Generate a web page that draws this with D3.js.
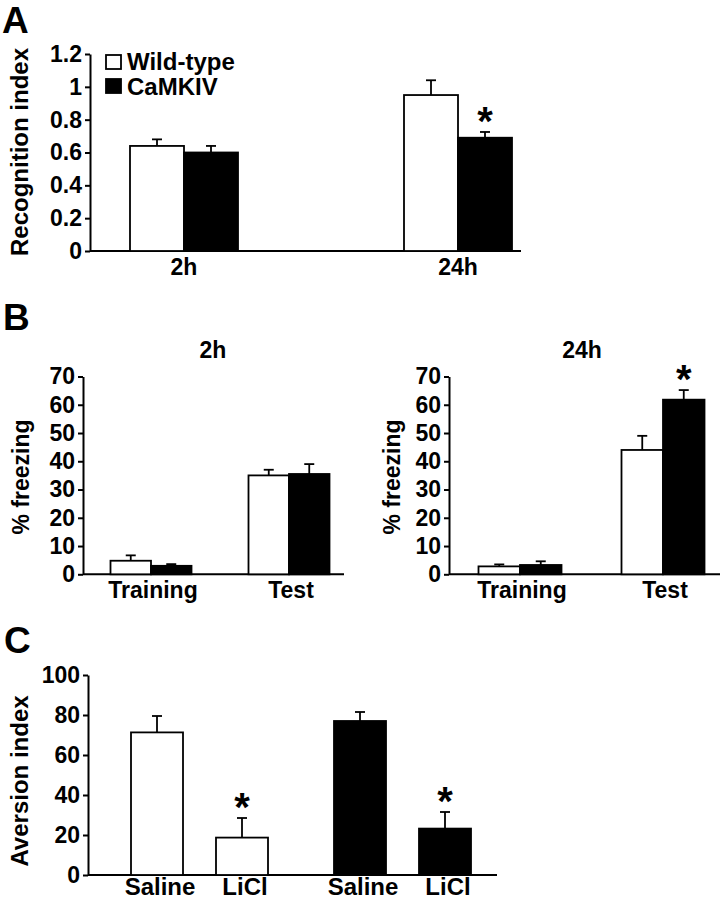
<!DOCTYPE html>
<html><head><meta charset="utf-8">
<script src="https://cdn.jsdelivr.net/npm/d3@7"></script>
<style>
body{margin:0;background:#fff}
text{font-family:"Liberation Sans",Arial,Helvetica,sans-serif;font-weight:bold;fill:#000}
</style>
</head><body>
<svg id="chart" width="725" height="900"></svg>
<script>
// ---------- DATA ----------
const seriesNames = ["Wild-type", "CaMKIV"];

// Panel A: recognition index
const aCategories = ["2h", "24h"];
const aWild = [0.64, 0.95];
const aWildErr = [0.04, 0.09];
const aCam = [0.60, 0.69];
const aCamErr = [0.04, 0.035];
const aCamSig = [false, true];
const aTicks = [0, 0.2, 0.4, 0.6, 0.8, 1, 1.2];
const aTickLabels = ["0", "0.2", "0.4", "0.6", "0.8", "1", "1.2"];

// Panel B: % freezing
const bPhases = ["Training", "Test"];
const bTitles = ["2h", "24h"];
const b2hWild = [4.8, 35.0];
const b2hWildErr = [1.9, 2.0];
const b2hCam = [3.0, 35.5];
const b2hCamErr = [0.6, 3.5];
const b2hCamSig = [false, false];
const b24hWild = [2.8, 44.0];
const b24hWildErr = [0.7, 5.0];
const b24hCam = [3.3, 61.8];
const b24hCamErr = [1.3, 3.4];
const b24hCamSig = [false, true];
const bTicks = [0, 10, 20, 30, 40, 50, 60, 70];
const bTickLabels = ["0", "10", "20", "30", "40", "50", "60", "70"];

// Panel C: aversion index
const cGroups = ["Wild-type", "CaMKIV"];
const cTreatments = ["Saline", "LiCl"];
const cWild = [71.3, 18.7];
const cWildErr = [8.2, 9.8];
const cWildSig = [false, true];
const cCam = [77.0, 23.2];
const cCamErr = [4.5, 8.3];
const cCamSig = [false, true];
const cTicks = [0, 20, 40, 60, 80, 100];
const cTickLabels = ["0", "20", "40", "60", "80", "100"];

// ---------- DRAWING ----------
const svg = d3.select("#chart");
const fills = {"Wild-type": "#fff", "CaMKIV": "#000"};

function yAxis(g, y, ticks, labels, axisX, xEnd) {
  const ax = g.append("g")
    .attr("transform", `translate(${axisX},0)`)
    .call(d3.axisLeft(y).tickValues(ticks).tickFormat((d, i) => labels[i])
      .tickSize(5).tickSizeOuter(0).tickPadding(3));
  ax.attr("font-size", 23).attr("font-family", null);
  ax.selectAll("path,line").attr("stroke", "#000").attr("stroke-width", 2);
  ax.selectAll("text").attr("fill", "#000");
  g.append("line")
    .attr("x1", axisX).attr("x2", xEnd)
    .attr("y1", y(0)).attr("y2", y(0))
    .attr("stroke", "#000").attr("stroke-width", 2);
}

function bar(g, x, w, y, v, e, fill, sig) {
  const cx = x + w / 2;
  g.append("line").attr("x1", cx).attr("x2", cx)
    .attr("y1", y(v)).attr("y2", y(v + e))
    .attr("stroke", "#000").attr("stroke-width", 1.8);
  g.append("line").attr("x1", cx - 5).attr("x2", cx + 5)
    .attr("y1", y(v + e)).attr("y2", y(v + e))
    .attr("stroke", "#000").attr("stroke-width", 1.8);
  g.append("rect").attr("x", x).attr("y", y(v))
    .attr("width", w).attr("height", y(0) - y(v))
    .attr("fill", fill).attr("stroke", "#000").attr("stroke-width", 1.8);
  if (sig) {
    g.append("text").attr("x", cx).attr("y", y(v + e) + 3)
      .attr("text-anchor", "middle").attr("font-size", 40).text("*");
  }
}

function yLabel(x, y, txt, size) {
  svg.append("text").attr("transform", `translate(${x},${y}) rotate(-90)`)
    .attr("text-anchor", "middle").attr("font-size", size).text(txt);
}

function panelLetter(x, y, t) {
  svg.append("text").attr("x", x).attr("y", y).attr("font-size", 37).text(t);
}

// ---- Panel A ----
{
  const g = svg.append("g");
  const y = d3.scaleLinear().domain([0, 1.2]).range([251, 54]);
  const x = d3.scalePoint().domain(aCategories).range([184, 458]);
  const inner = d3.scaleBand().domain(seriesNames).range([-54, 54]);
  yAxis(g, y, aTicks, aTickLabels, 90, 521);
  aCategories.forEach((c, i) => {
    bar(g, x(c) + inner("Wild-type"), inner.bandwidth(), y, aWild[i], aWildErr[i], fills["Wild-type"], false);
    bar(g, x(c) + inner("CaMKIV"), inner.bandwidth(), y, aCam[i], aCamErr[i], fills["CaMKIV"], aCamSig[i]);
  });
  g.selectAll("text.xl").data(aCategories).join("text").attr("class", "xl")
    .attr("x", d => x(d)).attr("y", 275).attr("text-anchor", "middle")
    .attr("font-size", 23).text(d => d);
  // legend
  const leg = g.append("g");
  seriesNames.forEach((s, i) => {
    leg.append("rect").attr("x", 106).attr("y", 55 + i * 24).attr("width", 15).attr("height", 14)
      .attr("fill", fills[s]).attr("stroke", "#000").attr("stroke-width", 1.8);
    leg.append("text").attr("x", 127).attr("y", 70 + i * 25).attr("font-size", 24).text(s);
  });
  yLabel(28, 152, "Recognition index", 24);
  panelLetter(2, 33, "A");
}

// ---- Panel B ----
function panelB(cfg) {
  const g = svg.append("g");
  const y = d3.scaleLinear().domain([0, 70]).range([574.3, 376.5]);
  const x = d3.scalePoint().domain(bPhases).range(cfg.range);
  const inner = d3.scaleBand().domain(seriesNames).range([-cfg.bw, cfg.bw]);
  yAxis(g, y, bTicks, bTickLabels, cfg.axisX, cfg.xEnd);
  bPhases.forEach((p, i) => {
    bar(g, x(p) + inner("Wild-type"), inner.bandwidth(), y, cfg.wild[i], cfg.wildErr[i], fills["Wild-type"], false);
    bar(g, x(p) + inner("CaMKIV"), inner.bandwidth(), y, cfg.cam[i], cfg.camErr[i], fills["CaMKIV"], cfg.sig[i]);
  });
  g.selectAll("text.xl").data(bPhases).join("text").attr("class", "xl")
    .attr("x", d => x(d) + 2).attr("y", 598).attr("text-anchor", "middle")
    .attr("font-size", 23).text(d => d);
  g.append("text").attr("x", cfg.titleX).attr("y", 358).attr("text-anchor", "middle")
    .attr("font-size", 23).text(cfg.title);
  yLabel(cfg.labelX, 477, "% freezing", 23);
}
panelB({range: [151, 289], bw: 40.5, axisX: 83, xEnd: 344, wild: b2hWild, wildErr: b2hWildErr,
        cam: b2hCam, camErr: b2hCamErr, sig: b2hCamSig, title: bTitles[0], titleX: 213, labelX: 29});
panelB({range: [520, 663], bw: 41.5, axisX: 449, xEnd: 720, wild: b24hWild, wildErr: b24hWildErr,
        cam: b24hCam, camErr: b24hCamErr, sig: b24hCamSig, title: bTitles[1], titleX: 582, labelX: 400});
panelLetter(3, 330, "B");

// ---- Panel C ----
{
  const g = svg.append("g");
  const y = d3.scaleLinear().domain([0, 100]).range([875, 675]);
  const x = d3.scalePoint().domain(cGroups).range([199.5, 402.5]);
  const inner = d3.scalePoint().domain(cTreatments).range([-42.5, 42.5]);
  const bw = 52;
  yAxis(g, y, cTicks, cTickLabels, 88, 497);
  const vals = {"Wild-type": [cWild, cWildErr, cWildSig], "CaMKIV": [cCam, cCamErr, cCamSig]};
  cGroups.forEach(grp => {
    const [v, e, s] = vals[grp];
    cTreatments.forEach((t, i) => {
      bar(g, x(grp) + inner(t) - bw / 2, bw, y, v[i], e[i], fills[grp], s[i]);
      g.append("text").attr("x", x(grp) + inner(t) + 3).attr("y", 894.5)
        .attr("text-anchor", "middle").attr("font-size", 24).text(t);
    });
  });
  yLabel(28, 781, "Aversion index", 24);
  panelLetter(4, 653, "C");
}
</script>
</body></html>
